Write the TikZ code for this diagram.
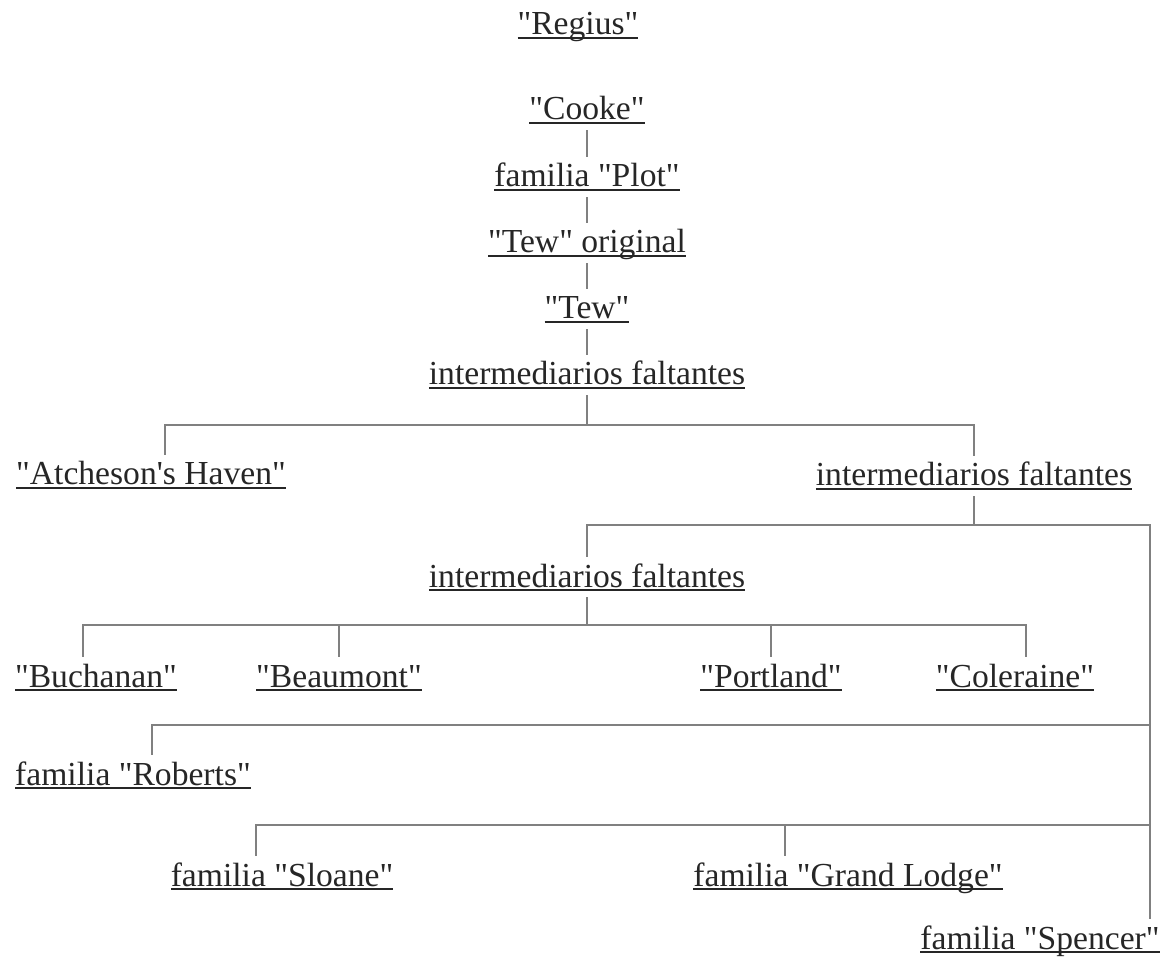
\documentclass[tikz,border=0pt]{standalone}
\usepackage{fontspec}
\setmainfont{Liberation Serif}[Ligatures=TeXOff]
\usetikzlibrary{calc}

% subrayado de los nombres
\newcommand{\subr}[1]{\setbox0\hbox{#1}\rlap{\raisebox{-1.9pt}{\rule{\wd0}{0.9pt}}}\box0}

\begin{document}
\begin{tikzpicture}[x=0.5pt,y=-0.5pt]
  % Definimos los estilos para los manuscritos y las lineas
  \tikzstyle{ms} = [anchor=base, inner sep=3pt, text height=12pt, text depth=2pt, text=black!85, font=\fontsize{16.8}{20}\selectfont];
  \tikzstyle{linea} = [draw=black!50, line width=0.9pt];

  \useasboundingbox (0,0) rectangle (1163,957);

  % Cadena superior
  \node [ms] (regius) at (578,35) {\subr{"Regius"}};
  \node [ms] (cooke) at (587,120) {\subr{"Cooke"}};
  \node [ms] (plot) at (587,187) {\subr{familia "Plot"}};
  \node [ms] (tewor) at (587,253) {\subr{"Tew" original}};
  \node [ms] (tew) at (587,319) {\subr{"Tew"}};
  \node [ms] (falt1) at (587,385) {\subr{intermediarios faltantes}};

  % Primera rama
  \node [ms] (atcheson) at (151,485) {\subr{"Atcheson's Haven"}};
  \node [ms] (falt2) at (974,486) {\subr{intermediarios faltantes}};
  \node [ms] (falt3) at (587,587) {\subr{intermediarios faltantes}};

  % Grupo de cuatro
  \node [ms] (buchanan) at (96,687) {\subr{"Buchanan"}};
  \node [ms] (beaumont) at (339,687) {\subr{"Beaumont"}};
  \node [ms] (portland) at (771,687) {\subr{"Portland"}};
  \node [ms] (coleraine) at (1015,687) {\subr{"Coleraine"}};

  % Familias
  \node [ms] (roberts) at (133,785) {\subr{familia "Roberts"}};
  \node [ms] (sloane) at (282,886) {\subr{familia "Sloane"}};
  \node [ms] (grandlodge) at (848,886) {\subr{familia "Grand Lodge"}};
  \node [ms] (spencer) at (1040,949) {\subr{familia "Spencer"}};

  % Nudos de las barras
  \coordinate (a1) at (165,425);
  \coordinate (a2) at (974,425);
  \coordinate (b1) at (587,525);
  \coordinate (b2) at (1150,525);
  \coordinate (c1) at (83,625);
  \coordinate (c2) at (1026,625);
  \coordinate (d1) at (152,725);
  \coordinate (d2) at (1150,725);
  \coordinate (e1) at (256,825);
  \coordinate (e2) at (1150,825);
  \coordinate (e3) at (785,825);

  % Lineas de la cadena
  \draw [linea] (cooke) -- (plot);
  \draw [linea] (plot) -- (tewor);
  \draw [linea] (tewor) -- (tew);
  \draw [linea] (tew) -- (falt1);

  % Barras
  \draw [linea] (falt1.south) -- (falt1.south |- a1);
  \draw [linea] (atcheson.north -| a1) |- (a2) -- (falt2.north);
  \draw [linea] (falt2.south) -- (falt2.south |- b1);
  \draw [linea] (falt3.north) |- (b2) -- (spencer.north -| b2);
  \draw [linea] (falt3.south) -- (falt3.south |- c1);
  \draw [linea] (buchanan.north -| c1) |- (c2) -- (coleraine.north -| c2);
  \draw [linea] (beaumont.north) -- (beaumont.north |- c1);
  \draw [linea] (portland.north) -- (portland.north |- c1);
  \draw [linea] (roberts.north -| d1) |- (d2);
  \draw [linea] (sloane.north -| e1) |- (e2);
  \draw [linea] (grandlodge.north -| e3) -- (e3);
\end{tikzpicture}
\end{document}
